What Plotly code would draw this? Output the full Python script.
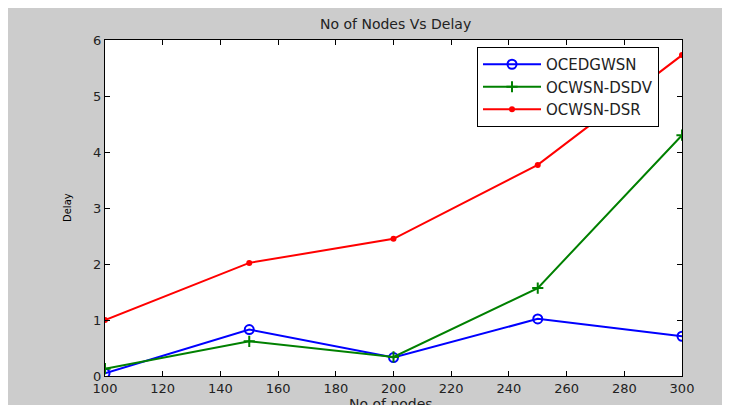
import plotly.graph_objects as go

nodes = [100, 150, 200, 250, 300]
ocedgwsn = [0.05, 0.83, 0.33, 1.02, 0.71]
ocwsn_dsdv = [0.13, 0.62, 0.34, 1.57, 4.30]
ocwsn_dsr = [1.00, 2.02, 2.45, 3.77, 5.73]

x_ticks = list(range(100, 301, 20))
y_ticks = list(range(0, 7))

# page offset from the default body margin of the html page
OFF = 8
W, H = 730, 405
# plot area in page pixels: x 105..682, y 40..376
L = 105 - OFF
T = 40 - OFF
R = W - (682 - OFF)
B = H - (376 - OFF)
pw, ph = W - L - R, H - T - B


def px(x):
    return (x - OFF - L) / pw


def py(y):
    return (H - B - (y - OFF)) / ph


FONT = "DejaVu Sans, Liberation Sans, Arial"

fig = go.Figure()
fig.add_trace(go.Scatter(x=nodes, y=ocedgwsn, name="OCEDGWSN", mode="lines+markers",
                         line=dict(color="#0000ff", width=2),
                         marker=dict(symbol="circle-open", size=9, color="#0000ff", line=dict(width=2))))
fig.add_trace(go.Scatter(x=nodes, y=ocwsn_dsdv, name="OCWSN-DSDV", mode="lines+markers",
                         line=dict(color="#008000", width=2),
                         marker=dict(symbol="cross-thin", size=8, color="#008000", line=dict(width=2, color="#008000"))))
fig.add_trace(go.Scatter(x=nodes, y=ocwsn_dsr, name="OCWSN-DSR", mode="lines+markers",
                         line=dict(color="#ff0000", width=2),
                         marker=dict(symbol="circle", size=6, color="#ff0000")))

axis_common = dict(showline=True, linecolor="black", linewidth=1, mirror="ticks",
                   ticks="inside", ticklen=5, tickcolor="black", showgrid=False, zeroline=False,
                   tickfont=dict(family=FONT, size=13, color="#222222"))

fig.update_xaxes(range=[100, 300], tickvals=x_ticks, **axis_common)
fig.update_yaxes(range=[0, 6], tickvals=y_ticks, **axis_common)

fig.update_layout(
    width=W, height=H,
    margin=dict(l=L, r=R, t=T, b=B),
    paper_bgcolor="#cccccc", plot_bgcolor="white",
    showlegend=True,
    legend=dict(x=px(477), y=py(47), xanchor="left", yanchor="top",
                bgcolor="white", bordercolor="black", borderwidth=1,
                font=dict(family=FONT, size=15, color="#222222"),
                tracegroupgap=0, itemwidth=58),
    annotations=[
        dict(text="No of Nodes Vs Delay", xref="paper", yref="paper", x=px(395), y=py(24),
             showarrow=False, xanchor="center", yanchor="middle",
             font=dict(family=FONT, size=14, color="#222222")),
        dict(text="No of nodes", xref="paper", yref="paper", x=px(391), y=py(404),
             showarrow=False, xanchor="center", yanchor="middle",
             font=dict(family=FONT, size=14, color="#222222")),
        dict(text="Delay", xref="paper", yref="paper", x=px(67), y=py(208), textangle=-90,
             showarrow=False, xanchor="center", yanchor="middle",
             font=dict(family=FONT, size=10, color="#000000")),
    ],
)

fig.write_html("out.html")
